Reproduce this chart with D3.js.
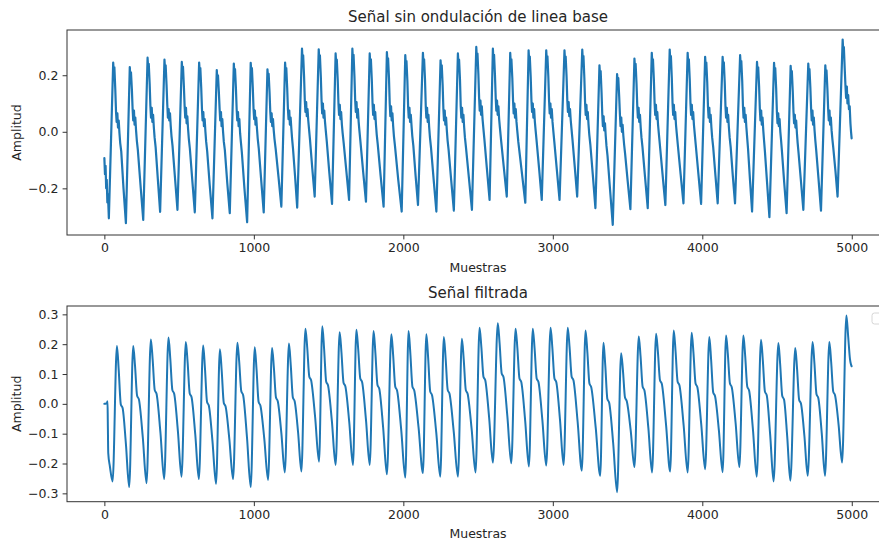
<!DOCTYPE html>
<html>
<head>
<meta charset="utf-8">
<script src="https://cdn.jsdelivr.net/npm/d3@7"></script>
<style>
  body { margin: 0; background: #fff; }
  svg { display: block; }
  text { font-family: "DejaVu Sans", sans-serif; fill: #262626; }
</style>
</head>
<body>
<svg id="chart" width="879" height="540"></svg>
<script>
// Tick values
const xTicks = [0, 1000, 2000, 3000, 4000, 5000];
const yTicksTop = [-0.2, 0.0, 0.2];
const yTicksBottom = [-0.3, -0.2, -0.1, 0.0, 0.1, 0.2, 0.3];

// Titles and axis labels
const titles = ["Señal sin ondulación de linea base", "Señal filtrada"];
const xLabel = "Muestras";
const yLabel = "Amplitud";

// Signal after baseline-wander removal: [sample, amplitude], one beat per row
const senalBase = [
  [0,-0.093],[4,-0.15],[8,-0.12],[12,-0.2],[16,-0.17],[20,-0.25],[24,-0.22],[30,-0.306],
  [59,.245],[63,.21],[67,.228],[73,.15],[78,.07],[82,.035],[87,.065],[91,.015],[96,.04],[101,-.005],[106,-.04],[113,-.07],[128,-.2],[144,-.323],
  [170,.229],[174,.195],[178,.21],[184,.15],[189,.08],[193,.04],[198,.075],[202,.025],[207,.05],[212,.005],[217,-.03],[224,-.065],[242,-.19],[260,-.312],
  [289,.262],[293,.225],[297,.24],[303,.17],[308,.09],[312,.05],[317,.085],[321,.035],[326,.06],[331,.015],[336,-.02],[343,-.055],[358,-.17],[373,-.283],
  [402,.255],[406,.22],[410,.235],[416,.165],[421,.095],[425,.05],[430,.08],[434,.04],[439,.065],[444,.02],[449,-.015],[456,-.05],[472,-.16],[489,-.276],
  [518,.247],[522,.215],[526,.23],[532,.16],[537,.09],[541,.05],[546,.085],[550,.03],[555,.055],[560,.01],[565,-.025],[572,-.06],[588,-.17],[605,-.285],
  [634,.245],[638,.21],[642,.225],[648,.155],[653,.08],[657,.04],[662,.07],[666,.02],[671,.045],[676,0],[681,-.035],[688,-.07],[705,-.19],[723,-.306],
  [752,.218],[756,.185],[760,.2],[766,.14],[771,.08],[775,.04],[780,.07],[784,.02],[789,.045],[794,0],[799,-.035],[806,-.065],[822,-.18],[839,-.288],
  [866,.241],[870,.205],[874,.222],[880,.155],[885,.08],[889,.04],[894,.07],[898,.02],[903,.045],[908,-.005],[913,-.035],[920,-.075],[937,-.2],[955,-.32],
  [979,.244],[983,.21],[987,.225],[993,.155],[998,.08],[1002,.045],[1007,.075],[1011,.025],[1016,.05],[1021,.01],[1026,-.025],[1033,-.06],[1049,-.17],[1066,-.285],
  [1091,.221],[1095,.19],[1099,.205],[1105,.14],[1110,.07],[1114,.035],[1119,.065],[1123,.02],[1128,.045],[1133,.005],[1138,-.025],[1146,-.06],[1165,-.16],[1184,-.265],
  [1209,.245],[1213,.21],[1217,.225],[1223,.155],[1228,.08],[1232,.045],[1237,.075],[1241,.025],[1246,.05],[1251,.01],[1256,-.025],[1262,-.06],[1276,-.16],[1290,-.268],
  [1322,.294],[1326,.255],[1330,.27],[1336,.195],[1341,.11],[1345,.07],[1350,.105],[1354,.055],[1359,.08],[1364,.04],[1369,.01],[1376,-.03],[1391,-.13],[1407,-.229],
  [1434,.292],[1438,.255],[1442,.27],[1448,.195],[1453,.11],[1457,.065],[1462,.1],[1466,.05],[1471,.075],[1476,.035],[1481,.005],[1488,-.035],[1505,-.145],[1523,-.255],
  [1547,.277],[1551,.24],[1555,.255],[1561,.185],[1566,.1],[1570,.06],[1575,.095],[1579,.045],[1584,.07],[1589,.025],[1594,-.005],[1601,-.04],[1619,-.14],[1637,-.241],
  [1659,.294],[1663,.255],[1667,.272],[1673,.195],[1678,.11],[1682,.07],[1687,.105],[1691,.05],[1696,.08],[1701,.035],[1706,.005],[1713,-.035],[1731,-.14],[1750,-.247],
  [1775,.277],[1779,.24],[1783,.256],[1789,.185],[1794,.1],[1798,.06],[1803,.095],[1807,.045],[1812,.07],[1817,.025],[1822,-.01],[1829,-.045],[1848,-.155],[1868,-.265],
  [1890,.282],[1894,.245],[1898,.26],[1904,.19],[1909,.1],[1913,.055],[1918,.09],[1922,.04],[1927,.065],[1932,.02],[1937,-.015],[1944,-.05],[1966,-.17],[1989,-.282],
  [2013,.271],[2017,.235],[2021,.25],[2027,.18],[2032,.09],[2036,.05],[2041,.085],[2045,.035],[2050,.06],[2055,.02],[2060,-.015],[2067,-.05],[2082,-.155],[2098,-.259],
  [2131,.279],[2135,.24],[2139,.256],[2145,.185],[2150,.09],[2154,.05],[2159,.085],[2163,.035],[2168,.06],[2173,.015],[2178,-.02],[2185,-.055],[2203,-.17],[2221,-.282],
  [2249,.253],[2253,.22],[2257,.235],[2263,.165],[2268,.08],[2272,.04],[2277,.075],[2281,.025],[2286,.05],[2291,.005],[2296,-.03],[2303,-.065],[2320,-.17],[2338,-.279],
  [2365,.277],[2369,.24],[2373,.255],[2379,.185],[2384,.09],[2388,.05],[2393,.085],[2397,.035],[2402,.06],[2407,.015],[2412,-.02],[2419,-.055],[2439,-.165],[2459,-.276],
  [2488,.3],[2492,.26],[2496,.277],[2502,.205],[2507,.12],[2511,.075],[2516,.11],[2520,.06],[2525,.09],[2530,.045],[2535,.015],[2542,-.025],[2559,-.13],[2577,-.241],
  [2599,.294],[2603,.255],[2607,.272],[2613,.2],[2618,.12],[2622,.075],[2627,.11],[2631,.06],[2636,.09],[2641,.045],[2646,.015],[2653,-.025],[2672,-.125],[2692,-.229],
  [2715,.279],[2719,.24],[2723,.256],[2729,.19],[2734,.11],[2738,.065],[2743,.1],[2747,.05],[2752,.08],[2757,.035],[2762,.005],[2769,-.035],[2792,-.14],[2816,-.251],
  [2838,.288],[2842,.25],[2846,.266],[2852,.195],[2857,.11],[2861,.07],[2866,.1],[2870,.05],[2875,.08],[2880,.035],[2885,.005],[2892,-.035],[2909,-.135],[2926,-.241],
  [2956,.288],[2960,.25],[2964,.267],[2970,.195],[2975,.11],[2979,.065],[2984,.1],[2988,.05],[2993,.08],[2998,.035],[3003,.005],[3010,-.035],[3027,-.135],[3045,-.241],
  [3078,.288],[3082,.25],[3086,.266],[3092,.195],[3097,.11],[3101,.07],[3106,.105],[3110,.055],[3115,.08],[3120,.04],[3125,.01],[3132,-.03],[3147,-.125],[3163,-.229],
  [3197,.291],[3201,.25],[3205,.268],[3211,.19],[3216,.1],[3220,.06],[3225,.095],[3229,.045],[3234,.07],[3239,.025],[3244,-.01],[3251,-.045],[3268,-.155],[3285,-.27],
  [3312,.235],[3316,.2],[3320,.215],[3326,.14],[3331,.06],[3335,.02],[3340,.055],[3344,.005],[3349,.03],[3354,-.015],[3359,-.05],[3366,-.085],[3383,-.205],[3401,-.329],
  [3430,.204],[3434,.175],[3438,.19],[3444,.125],[3449,.06],[3453,.02],[3458,.05],[3462,0],[3467,.025],[3472,-.015],[3477,-.045],[3484,-.08],[3501,-.175],[3519,-.274],
  [3546,.259],[3550,.225],[3554,.24],[3560,.17],[3565,.09],[3569,.05],[3574,.085],[3578,.035],[3583,.06],[3588,.015],[3593,-.02],[3600,-.055],[3617,-.16],[3635,-.27],
  [3662,.279],[3666,.24],[3670,.256],[3676,.185],[3681,.1],[3685,.06],[3690,.095],[3694,.045],[3699,.07],[3704,.025],[3709,-.005],[3716,-.045],[3734,-.15],[3753,-.259],
  [3782,.291],[3786,.252],[3790,.268],[3796,.19],[3801,.1],[3805,.06],[3810,.095],[3814,.045],[3819,.07],[3824,.025],[3829,-.005],[3836,-.045],[3855,-.15],[3874,-.253],
  [3902,.279],[3906,.24],[3910,.256],[3916,.185],[3921,.1],[3925,.06],[3930,.095],[3934,.045],[3939,.07],[3944,.025],[3949,-.005],[3956,-.045],[3974,-.15],[3992,-.255],
  [4019,.265],[4023,.23],[4027,.245],[4033,.175],[4038,.09],[4042,.05],[4047,.085],[4051,.035],[4056,.06],[4061,.015],[4066,-.02],[4073,-.055],[4088,-.155],[4103,-.253],
  [4136,.265],[4140,.23],[4144,.246],[4150,.175],[4155,.09],[4159,.05],[4164,.085],[4168,.035],[4173,.06],[4178,.015],[4183,-.02],[4190,-.055],[4204,-.155],[4219,-.253],
  [4253,.271],[4257,.235],[4261,.25],[4267,.18],[4272,.09],[4276,.05],[4281,.085],[4285,.035],[4290,.06],[4295,.015],[4300,-.02],[4306,-.06],[4319,-.17],[4333,-.282],
  [4366,.247],[4370,.212],[4374,.228],[4380,.16],[4385,.08],[4389,.04],[4394,.075],[4398,.025],[4403,.05],[4408,.005],[4413,-.03],[4419,-.07],[4434,-.185],[4449,-.302],
  [4480,.244],[4484,.21],[4488,.225],[4494,.155],[4499,.07],[4503,.03],[4508,.065],[4512,.02],[4517,.045],[4522,0],[4527,-.03],[4533,-.07],[4548,-.18],[4564,-.288],
  [4591,.233],[4595,.2],[4599,.215],[4605,.145],[4610,.07],[4614,.03],[4619,.06],[4623,.015],[4628,.04],[4633,-.005],[4638,-.04],[4644,-.075],[4660,-.175],[4676,-.276],
  [4709,.241],[4713,.205],[4717,.222],[4723,.155],[4728,.08],[4732,.04],[4737,.075],[4741,.025],[4746,.05],[4751,.005],[4756,-.03],[4762,-.065],[4778,-.17],[4794,-.279],
  [4823,.235],[4827,.2],[4831,.217],[4837,.15],[4842,.08],[4846,.04],[4851,.075],[4855,.025],[4860,.05],[4865,.005],[4870,-.025],[4876,-.055],[4891,-.14],[4905,-.229],
  [4939,.326],[4943,.285],[4947,.3],[4953,.22],[4958,.16],[4962,.12],[4967,.16],[4971,.1],[4976,.13],[4981,.08],[4986,.09],[4991,.03],[4995,0],[4999,-.023]
];

// Filtered signal: [sample, amplitude], one beat per row
const senalFiltrada = [
  [0,0],[12,.001],[18,.004],[21,.009],[23,-.06],[26,-.165],[37,-.21],[55,-.26],
  [84,.194],[96,.113],[110,-.002],[122,-.014],[144,-.134],[166,-.279],
  [193,.194],[205,.128],[219,.027],[231,.015],[257,-.112],[282,-.266],
  [311,.216],[323,.148],[337,.046],[349,.034],[375,-.096],[400,-.252],
  [429,.222],[441,.151],[455,.046],[467,.034],[492,-.092],[516,-.244],
  [545,.207],[557,.138],[571,.035],[583,.023],[608,-.102],[632,-.252],
  [661,.196],[673,.118],[687,.006],[699,-.006],[723,-.124],[747,-.268],
  [773,.183],[785,.11],[799,.003],[811,-.009],[836,-.118],[861,-.252],
  [890,.205],[902,.141],[916,.042],[928,.03],[954,-.112],[979,-.279],
  [1006,.19],[1018,.115],[1032,.006],[1044,-.006],[1070,-.118],[1095,-.255],
  [1122,.187],[1134,.121],[1148,.021],[1160,.009],[1184,-.098],[1207,-.23],
  [1235,.202],[1247,.129],[1261,.021],[1273,.009],[1296,-.096],[1318,-.227],
  [1345,.252],[1357,.189],[1371,.091],[1383,.079],[1410,-.045],[1436,-.194],
  [1458,.26],[1470,.184],[1484,.074],[1496,.062],[1522,-.058],[1547,-.205],
  [1574,.24],[1586,.173],[1600,.071],[1612,.059],[1638,-.06],[1663,-.205],
  [1686,.248],[1698,.184],[1712,.085],[1724,.073],[1750,-.053],[1775,-.205],
  [1801,.244],[1813,.171],[1827,.063],[1839,.051],[1865,-.08],[1890,-.236],
  [1920,.233],[1932,.162],[1946,.057],[1958,.045],[1986,-.088],[2013,-.247],
  [2035,.244],[2047,.168],[2061,.057],[2073,.045],[2102,-.08],[2131,-.232],
  [2154,.233],[2166,.154],[2180,.041],[2192,.029],[2220,-.095],[2247,-.244],
  [2271,.224],[2283,.152],[2297,.046],[2309,.034],[2337,-.092],[2365,-.244],
  [2392,.218],[2404,.149],[2418,.046],[2430,.034],[2457,-.085],[2483,-.23],
  [2510,.255],[2522,.19],[2536,.091],[2548,.079],[2574,-.046],[2599,-.197],
  [2632,.27],[2644,.203],[2658,.102],[2670,.09],[2696,-.042],[2722,-.199],
  [2751,.252],[2763,.186],[2777,.085],[2789,.073],[2815,-.056],[2840,-.21],
  [2866,.252],[2878,.186],[2892,.085],[2904,.073],[2930,-.054],[2956,-.207],
  [2985,.255],[2997,.187],[3011,.085],[3023,.073],[3048,-.053],[3072,-.205],
  [3100,.255],[3112,.19],[3126,.091],[3138,.079],[3166,-.06],[3194,-.224],
  [3219,.246],[3231,.174],[3245,.068],[3257,.056],[3287,-.08],[3317,-.241],
  [3339,.205],[3351,.128],[3365,.016],[3377,.004],[3404,-.133],[3430,-.296],
  [3457,.17],[3469,.113],[3483,.021],[3495,.009],[3521,-.089],[3546,-.212],
  [3575,.226],[3587,.159],[3601,.057],[3613,.045],[3639,-.08],[3664,-.23],
  [3691,.235],[3703,.174],[3717,.079],[3729,.067],[3757,-.067],[3785,-.227],
  [3809,.246],[3821,.177],[3835,.074],[3847,.062],[3875,-.071],[3902,-.23],
  [3929,.238],[3941,.17],[3955,.068],[3967,.056],[3993,-.069],[4019,-.219],
  [4047,.224],[4059,.148],[4073,.038],[4085,.026],[4111,-.089],[4136,-.229],
  [4159,.229],[4171,.166],[4185,.068],[4197,.056],[4223,-.065],[4248,-.212],
  [4275,.229],[4287,.16],[4301,.057],[4313,.045],[4339,-.087],[4364,-.244],
  [4393,.215],[4405,.145],[4419,.041],[4431,.029],[4454,-.103],[4477,-.26],
  [4509,.204],[4521,.132],[4535,.026],[4547,.014],[4568,-.109],[4589,-.258],
  [4622,.187],[4634,.117],[4648,.013],[4660,.001],[4683,-.107],[4705,-.241],
  [4738,.207],[4750,.137],[4764,.032],[4776,.02],[4799,-.098],[4821,-.241],
  [4850,.207],[4862,.141],[4876,.041],[4888,.029],[4912,-.071],[4935,-.197],
  [4964,.296],[4976,.225],[4988,.15],[4993,.135],[4999,.126]
];

const lineColor = "#1f77b4";
const svg = d3.select("#chart");

// Shared horizontal scale (axes run past the right edge of the canvas)
const x = d3.scaleLinear().domain([-250, 5249]).range([67, 889]);

const panels = [
  { title: titles[0], data: senalBase, yDomain: [-0.365, 0.36], yRange: [235, 30],
    yTicks: yTicksTop, curve: d3.curveLinear, width: 2.2 },
  { title: titles[1], data: senalFiltrada, yDomain: [-0.328, 0.328], yRange: [501.7, 306],
    yTicks: yTicksBottom, curve: d3.curveMonotoneX, width: 2.0 }
];

panels.forEach((p, i) => {
  const y = d3.scaleLinear().domain(p.yDomain).range(p.yRange);
  const top = p.yRange[1], bottom = p.yRange[0];
  const g = svg.append("g");

  const clipId = "clip" + i;
  svg.append("clipPath").attr("id", clipId)
    .append("rect").attr("x", 67).attr("y", top).attr("width", 822).attr("height", bottom - top);

  // Signal trace
  g.append("path")
    .datum(p.data)
    .attr("clip-path", `url(#${clipId})`)
    .attr("fill", "none")
    .attr("stroke", lineColor)
    .attr("stroke-width", p.width)
    .attr("stroke-linejoin", "round")
    .attr("stroke-linecap", "round")
    .attr("d", d3.line().x(d => x(d[0])).y(d => y(d[1])).curve(p.curve));

  // Axes
  const xAxis = g.append("g").attr("transform", `translate(0,${bottom})`)
    .call(d3.axisBottom(x).tickValues(xTicks).tickSize(4.4).tickPadding(4.2).tickFormat(d3.format("d")));
  const yAxis = g.append("g").attr("transform", "translate(67,0)")
    .call(d3.axisLeft(y).tickValues(p.yTicks).tickSize(4.4).tickPadding(4.2).tickFormat(d3.format(".1f")));
  [xAxis, yAxis].forEach(a => {
    a.select(".domain").remove();
    a.selectAll(".tick line").attr("stroke", "#333").attr("stroke-width", 1);
    a.selectAll(".tick text").attr("font-size", 12.5).attr("fill", "#262626")
      .style("font-family", "'DejaVu Sans', sans-serif");
  });

  // Frame
  g.append("rect")
    .attr("x", 67).attr("y", top).attr("width", 822).attr("height", bottom - top)
    .attr("fill", "none").attr("stroke", "#333").attr("stroke-width", 1);

  // Title
  g.append("text").attr("x", 478).attr("y", top - 8)
    .attr("text-anchor", "middle").attr("font-size", 15).text(p.title);

  // Axis labels
  g.append("text").attr("x", 478).attr("y", bottom + 36.5)
    .attr("text-anchor", "middle").attr("font-size", 12.5).text(xLabel);
  g.append("text")
    .attr("transform", `translate(20.5,${(top + bottom) / 2}) rotate(-90)`)
    .attr("text-anchor", "middle").attr("font-size", 12.5).text(yLabel);
});

// Empty legend frame in the filtered panel
svg.append("rect")
  .attr("x", 872).attr("y", 313).attr("width", 18).attr("height", 11).attr("rx", 2.5)
  .attr("fill", "#fff").attr("stroke", "#d6d6d6").attr("stroke-width", 1);
</script>
</body>
</html>
